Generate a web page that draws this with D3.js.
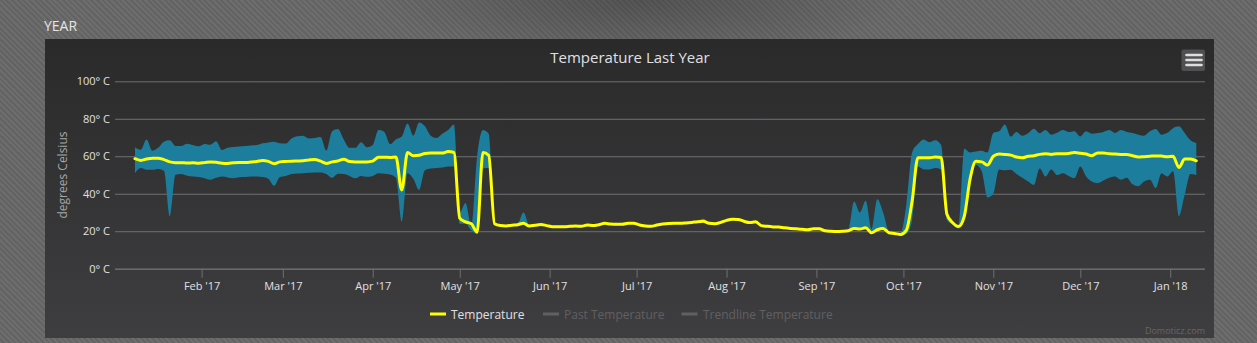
<!DOCTYPE html>
<html>
<head>
<meta charset="utf-8">
<script src="https://cdn.jsdelivr.net/npm/d3@7"></script>
<style>
  html, body { margin: 0; padding: 0; }
  body {
    width: 1257px; height: 343px; overflow: hidden;
    background-color: #686868;
    background-image:
      radial-gradient(ellipse 260px 60px at 640px 0px, rgba(40,40,40,0.35), rgba(40,40,40,0) 100%),
      repeating-linear-gradient(45deg, #6d6d6d 0px, #6d6d6d 2px, #636363 2px, #636363 4px);
  }
  svg { position: absolute; left: 0; top: 0; }
  text { font-family: "Open Sans", "Noto Sans", sans-serif; }
</style>
</head>
<body>
<svg id="chart" width="1257" height="343"></svg>
<script>
// ---- data (every 2 days starting 9 Jan 2017) ----
const startDate = Date.UTC(2017, 0, 9);
const stepDays = 2;

const avgTemp = [
  58.7,57.8,58.5,59,59,58.2,57,56.6,56.6,56.4,
  56.5,56.3,56.6,57,56.8,56.3,56.2,56.5,56.7,56.7,
  56.9,57.2,57.8,57.3,56,57,57.2,57.4,57.5,57.6,
  58,58.3,57.4,56.2,57,57.5,58.4,57.2,57,57,
  57,57.4,59.5,59.5,59.4,59.6,42,62,60.3,60.5,
  61.5,61.7,61.7,61.7,62.5,62,27,25,24,19.5,
  62,60.5,24,23,22.8,23.2,23.5,24.2,22.8,23.2,
  23.6,23,22.4,22.4,22.4,22.6,22.8,22.6,23.3,23,
  23.5,24.2,23.8,23.7,23.7,24.2,24.3,23.3,22.8,22.6,
  23.3,23.8,24.1,24.2,24.2,24.4,24.7,25.1,25.3,24.2,
  24,24.7,25.8,26.4,26.3,25.3,24.6,25,23,22.6,
  22.3,22.2,21.8,21.5,21.3,21.1,20.8,21.3,21.3,20.2,
  20,19.9,20,20.3,21.5,21.2,21.8,19.2,20.8,21.5,
  19.2,18.8,18.3,20.5,36,59.2,59.2,59.2,59.6,59.3,
  29,24.5,22.5,28,48,57.3,57,55.3,60,61.2,
  61,60.6,59.6,59.2,60,60.3,61,61.3,61,61.3,
  61.3,61.5,62,61.6,61.2,60.3,61.8,61.8,61.3,61.2,
  61,60.9,60.3,59.6,59.8,60,60.2,60.1,59.7,60,
  54,58.5,58.5,57.6
];

const maxTemp = [
  64.8,63.5,69,63,64.5,67.8,68.5,65.5,65.5,66.7,
  66,65.3,66.6,66.2,68,63.3,64.5,65,65.2,65.5,
  65.8,66,66.9,67.4,67.8,67,66.8,69.5,70.7,71,
  69.5,69.8,70.3,63,73.4,74.6,69,64.5,64.5,67.5,
  64.8,66,74,73,66.5,69,70.5,77.5,71,78,
  76,71,69.8,72,74,77,30,35,22.5,60,
  74,72,24.5,23.5,23.3,23.7,24.2,30,23.3,23.7,
  24.1,23.5,22.9,22.9,22.9,23.1,23.3,23.1,23.8,23.5,
  24,24.7,24.3,24.2,24.2,24.7,24.8,23.8,23.3,23.1,
  23.8,24.3,24.6,24.7,24.7,24.9,25.2,25.6,26.7,24.7,
  24.5,25.2,26.3,26.9,26.8,25.8,25.1,25.5,23.5,23.1,
  22.8,22.7,22.3,22,21.8,21.6,21.3,21.8,21.8,20.7,
  20.5,20.4,20.5,20.8,35.8,30,36.2,21,37,30,
  20,19.3,18.8,34,62,66.5,69,67.5,68.5,66,
  30,25,23,64,62,62.5,63,62,72.4,73.3,
  77,70.5,73,71,72.3,74.7,72.3,74,71.5,72.5,
  74,73,73.4,70.6,73.3,72,72.4,73,74,72.4,
  74,73,72.4,71.5,71,73.3,74.5,71.5,72.5,75,
  76,72.4,68.5,67
];

const minTemp = [
  51,53.7,52.8,52.8,53.2,52.3,28,50.2,50.5,49.6,
  49.2,48.9,48.3,47.5,48.5,49.2,48.7,48.3,48.8,48.9,
  49.2,49.2,48.9,48,44.2,48.9,49.5,50.5,50.8,51,
  51.2,51.4,51.4,50.6,48.5,50.7,50.5,49.5,48.3,49.5,
  49,49.5,51,50.7,50.3,48.5,25,51,48,42,
  52.5,53.5,53.7,54,54.5,54.6,24,24,20.5,18.5,
  53.5,53.7,23.5,22.5,22.3,22.7,23,23.7,22.3,22.7,
  23.1,22.5,21.9,21.9,21.9,22.1,22.3,22.1,22.8,22.5,
  23,23.7,23.3,23.2,23.2,23.7,23.8,22.8,22.3,22.1,
  22.8,23.3,23.6,23.7,23.7,23.9,24.2,24.6,24.8,23.7,
  23.5,24.2,25.3,25.9,25.8,24.8,24.1,24.5,22.5,22.1,
  21.8,21.7,21.3,21,20.8,20.6,20.3,20.8,20.8,19.7,
  19.5,19.4,19.5,19.8,21,20.7,21.3,18.7,20.3,21,
  18.7,18.3,17.8,18.5,26,54.5,53,53,53.7,53,
  26,23.5,21.5,27,44,55.5,52,38,40,53,
  52.5,52.8,50.5,48.5,46.5,44.7,53.5,49.2,53,50,
  51,49.5,48.3,54.5,49.2,46.5,45.6,47,48.5,49.2,
  47.4,48.5,45,44,46.5,47.4,43,51,49.2,52,
  28,39.4,50.5,50
];

const yTicks = [0, 20, 40, 60, 80, 100];
const legendNames = ["Temperature", "Past Temperature", "Trendline Temperature"];
const chartTitle = "Temperature Last Year";
const yTitle = "degrees Celsius";
const sectionLabel = "YEAR";
const credits = "Domoticz.com";

// ---- build ----
const DAY = 86400000;
const rows = avgTemp.map((v, i) => ({
  date: new Date(startDate + i * stepDays * DAY),
  avg: v, lo: minTemp[i], hi: maxTemp[i]
}));

const svg = d3.select("#chart");
const defs = svg.append("defs");
const grad = defs.append("linearGradient").attr("id", "bg").attr("x1", 0).attr("y1", 0).attr("x2", 0).attr("y2", 1);
grad.append("stop").attr("offset", "0%").attr("stop-color", "#2a2a2b");
grad.append("stop").attr("offset", "100%").attr("stop-color", "#3e3e40");

// panel
const panel = { x: 45, y: 39, w: 1169, h: 299 };
svg.append("rect").attr("x", panel.x).attr("y", panel.y).attr("width", panel.w).attr("height", panel.h).attr("fill", "url(#bg)");

svg.append("text").attr("x", 44).attr("y", 31).attr("fill", "#e6e6e6")
  .attr("font-size", 14).text(sectionLabel);

const plot = { left: 115, right: 1205, top: 81.3, bottom: 268.7 };

const x = d3.scaleUtc()
  .domain([new Date(Date.UTC(2017, 0, 2, 3)), new Date(Date.UTC(2018, 0, 13, 0))])
  .range([plot.left, plot.right]);
const y = d3.scaleLinear().domain([0, 100]).range([plot.bottom, plot.top]);

// grid + y labels
const yAxis = d3.axisLeft(y).tickValues(yTicks).tickSize(-(plot.right - plot.left)).tickPadding(5)
  .tickFormat(d => d + "\u00B0 C");
const gy = svg.append("g").attr("transform", `translate(${plot.left},0)`).call(yAxis);
gy.select(".domain").remove();
gy.selectAll(".tick line").attr("stroke", "#707073").attr("stroke-width", 1);
gy.selectAll(".tick text").attr("fill", "#e0e0e3").attr("font-size", 11)
  .attr("font-family", "'Open Sans', sans-serif").attr("x", -5);

// x axis
const xAxis = d3.axisBottom(x)
  .ticks(d3.utcMonth.every(1))
  .tickSize(9).tickPadding(5)
  .tickFormat(d3.utcFormat("%b '%y"));
const gx = svg.append("g").attr("transform", `translate(0,${plot.bottom})`).call(xAxis);
gx.select(".domain").attr("stroke", "#707073").attr("d", `M${plot.left},0.5H${plot.right}`);
gx.selectAll(".tick").filter(d => d < x.domain()[0] || d > x.domain()[1]).remove();
gx.selectAll(".tick line").attr("stroke", "#707073");
gx.selectAll(".tick text").attr("fill", "#e0e0e3").attr("font-size", 11)
  .attr("font-family", "'Open Sans', sans-serif");

// range area
const area = d3.area()
  .x(d => x(d.date)).y0(d => y(d.lo)).y1(d => y(d.hi))
  .curve(d3.curveMonotoneX);
svg.append("path").datum(rows).attr("d", area).attr("fill", "#1c7d9d");

// average line
const line = d3.line().x(d => x(d.date)).y(d => y(d.avg)).curve(d3.curveMonotoneX);
svg.append("path").datum(rows).attr("d", line)
  .attr("fill", "none").attr("stroke", "#ffff00").attr("stroke-width", 3)
  .attr("stroke-linejoin", "round").attr("stroke-linecap", "round");

// title
svg.append("text").attr("x", 630).attr("y", 63).attr("text-anchor", "middle")
  .attr("fill", "#e0e0e3").attr("font-size", 15).text(chartTitle);

// y axis title
svg.append("text")
  .attr("transform", `translate(67,${(plot.top + plot.bottom) / 2}) rotate(-90)`)
  .attr("text-anchor", "middle").attr("fill", "#a6a6a6").attr("font-size", 12)
  .text(yTitle);

// context button
svg.append("rect").attr("x", 1181.5).attr("y", 49.5).attr("width", 23.5).attr("height", 21.5)
  .attr("rx", 2).attr("fill", "#505053");
[55, 60, 65].forEach(yy => {
  svg.append("line").attr("x1", 1186.5).attr("x2", 1201.5).attr("y1", yy).attr("y2", yy)
    .attr("stroke", "#dddddd").attr("stroke-width", 2.6).attr("stroke-linecap", "round");
});

// legend
const legendPos = [
  { sx: 430, tx: 451, color: "#ffff00", text: "#e0e0e3" },
  { sx: 543, tx: 564, color: "#606063", text: "#606063" },
  { sx: 681.5, tx: 703, color: "#606063", text: "#606063" }
];
const lg = svg.append("g");
legendNames.forEach((name, i) => {
  const p = legendPos[i];
  lg.append("line").attr("x1", p.sx).attr("x2", p.sx + 16).attr("y1", 314).attr("y2", 314)
    .attr("stroke", p.color).attr("stroke-width", 3);
  lg.append("text").attr("x", p.tx).attr("y", 318.5).attr("fill", p.text)
    .attr("font-size", 12).text(name);
});

// credits
svg.append("text").attr("x", 1205).attr("y", 334).attr("text-anchor", "end")
  .attr("fill", "#666666").attr("font-size", 9).text(credits);
</script>
</body>
</html>
